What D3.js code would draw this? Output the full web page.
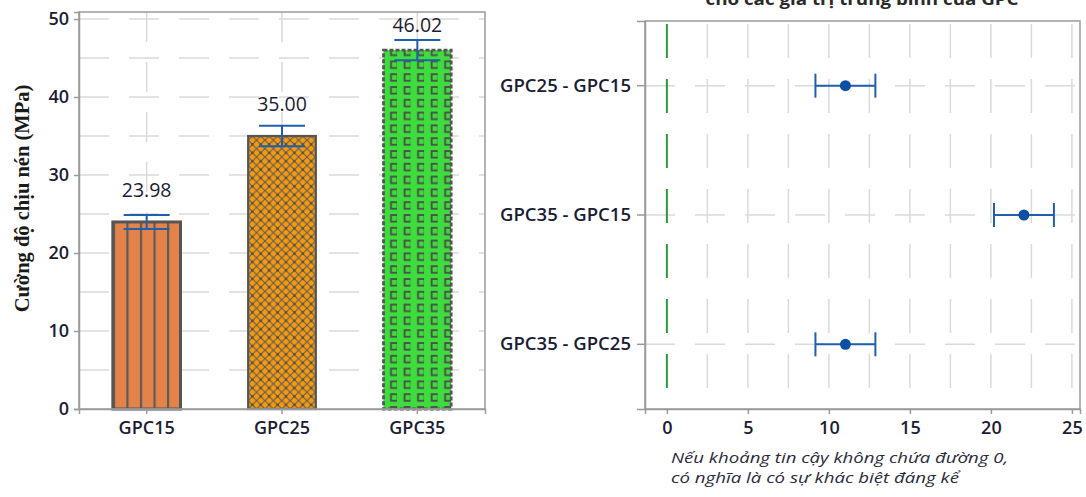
<!DOCTYPE html>
<html>
<head>
<meta charset="utf-8">
<script src="https://cdn.jsdelivr.net/npm/d3@7"></script>
<style>
  html, body { margin: 0; padding: 0; background: #fff; }
  svg { display: block; font-family: "Open Sans", "Noto Sans", sans-serif; }
</style>
</head>
<body>
<svg id="chart" width="1086" height="497"></svg>
<script>
// Compressive strength by mix (left panel)
const barCategories = ["GPC15", "GPC25", "GPC35"];
const barMeans = [23.98, 35.00, 46.02];
const barErrors = [0.9, 1.3, 1.3];
const barLabels = ["23.98", "35.00", "46.02"];
const strengthTicks = [0, 10, 20, 30, 40, 50];
const strengthGrid = [5, 10, 15, 20, 25, 30, 35, 40, 45, 50];

// Tukey pairwise differences with confidence intervals (right panel)
const pairLabels = ["GPC25 - GPC15", "GPC35 - GPC15", "GPC35 - GPC25"];
const pairDiffs = [11.02, 22.04, 11.02];
const pairLower = [9.17, 20.19, 9.17];
const pairUpper = [12.87, 23.89, 12.87];
const diffTicks = [0, 5, 10, 15, 20, 25];
const diffGrid = [2.5, 5, 7.5, 10, 12.5, 15, 17.5, 20, 22.5, 25];

const svg = d3.select("#chart");
const defs = svg.append("defs");
const textColor = "#1c1c34";
const gridColor = "#dadada";
const frameColor = "#9a9a9a";
const ciBlue = "#1f5fae";

// ---------- Left panel ----------
const L = { left: 79, right: 485, top: 12, bottom: 409 };
const x = d3.scaleBand().domain(barCategories).range([L.left, L.right])
  .paddingInner(0.5).paddingOuter(0.25);
const y = d3.scaleLinear().domain([0, 50.9]).range([L.bottom, L.top]);
const bw = x.bandwidth();

const left = svg.append("g");

// grid
left.selectAll(".hg").data(strengthGrid).join("line")
  .attr("x1", L.left).attr("x2", L.right)
  .attr("y1", d => y(d)).attr("y2", d => y(d))
  .attr("stroke", gridColor).attr("stroke-width", 1.5)
  .attr("stroke-dasharray", "30,20");
left.selectAll(".vg").data(barCategories).join("line")
  .attr("x1", d => x(d) + bw / 2).attr("x2", d => x(d) + bw / 2)
  .attr("y1", L.top).attr("y2", L.bottom)
  .attr("stroke", gridColor).attr("stroke-width", 1.5)
  .attr("stroke-dasharray", "30,20");

// fill patterns, one per bar, anchored to each bar's left edge
const x15 = x("GPC15"), x25 = x("GPC25"), x35 = x("GPC35");

const p15 = defs.append("pattern").attr("id", "pat15")
  .attr("patternUnits", "userSpaceOnUse")
  .attr("x", x15).attr("y", 0).attr("width", bw / 5).attr("height", 10);
p15.append("rect").attr("width", bw / 5).attr("height", 10).attr("fill", "#e3834a");
p15.append("rect").attr("x", 0).attr("width", 2.2).attr("height", 10).attr("fill", "#5b5b5b");

const s25 = 8.4;
const p25 = defs.append("pattern").attr("id", "pat25")
  .attr("patternUnits", "userSpaceOnUse")
  .attr("x", x25).attr("y", L.bottom).attr("width", s25).attr("height", s25);
p25.append("rect").attr("width", s25).attr("height", s25).attr("fill", "#f59a0e");
p25.append("path").attr("d", `M0,0L${s25},${s25}M${s25},0L0,${s25}`)
  .attr("stroke", "#5c5c5c").attr("stroke-width", 1.1).attr("fill", "none");
p25.append("rect").attr("x", s25 / 2 - 1.2).attr("y", s25 / 2 - 1.2)
  .attr("width", 2.4).attr("height", 2.4).attr("fill", "#4e4e4e");

const w35 = bw / 5, h35 = 12.8;
const p35 = defs.append("pattern").attr("id", "pat35")
  .attr("patternUnits", "userSpaceOnUse")
  .attr("x", x35).attr("y", L.bottom - 15.8).attr("width", w35).attr("height", h35);
p35.append("rect").attr("width", w35).attr("height", h35).attr("fill", "#3edc3c");
p35.append("rect").attr("x", 7.5).attr("y", 1).attr("width", 6.6).attr("height", 6.6)
  .attr("fill", "none").attr("stroke", "#4c4c4c").attr("stroke-width", 1.8);

const barFill = { GPC15: "url(#pat15)", GPC25: "url(#pat25)", GPC35: "url(#pat35)" };
const barDash = { GPC15: null, GPC25: null, GPC35: "4,2" };
const barStrokeW = { GPC15: 3, GPC25: 2.2, GPC35: 2.8 };

left.selectAll(".bar").data(barCategories).join("rect")
  .attr("x", d => x(d)).attr("width", bw)
  .attr("y", (d, i) => y(barMeans[i]))
  .attr("height", (d, i) => y(0) - y(barMeans[i]))
  .attr("fill", d => barFill[d])
  .attr("stroke", "#555555")
  .attr("stroke-width", d => barStrokeW[d])
  .attr("stroke-dasharray", d => barDash[d]);

// error bars
const capHalf = 23;
const eb = left.selectAll(".eb").data(barCategories).join("g")
  .attr("stroke", ciBlue).attr("stroke-width", 2).attr("fill", "none");
eb.append("line")
  .attr("x1", d => x(d) + bw / 2).attr("x2", d => x(d) + bw / 2)
  .attr("y1", (d, i) => y(barMeans[i] - barErrors[i]))
  .attr("y2", (d, i) => y(barMeans[i] + barErrors[i]));
eb.append("line")
  .attr("x1", d => x(d) + bw / 2 - capHalf).attr("x2", d => x(d) + bw / 2 + capHalf)
  .attr("y1", (d, i) => y(barMeans[i] + barErrors[i]))
  .attr("y2", (d, i) => y(barMeans[i] + barErrors[i]));
eb.append("line")
  .attr("x1", d => x(d) + bw / 2 - capHalf).attr("x2", d => x(d) + bw / 2 + capHalf)
  .attr("y1", (d, i) => y(barMeans[i] - barErrors[i]))
  .attr("y2", (d, i) => y(barMeans[i] - barErrors[i]));

// value labels, kept inside the frame
left.selectAll(".vl").data(barCategories).join("text")
  .attr("x", d => x(d) + bw / 2)
  .attr("y", (d, i) => Math.max(y(barMeans[i]) - 32, L.top + 13))
  .attr("dy", "0.36em")
  .attr("text-anchor", "middle")
  .attr("font-size", 19.5).attr("fill", textColor)
  .text((d, i) => barLabels[i]);

// frame
left.append("rect")
  .attr("x", L.left).attr("y", L.top)
  .attr("width", L.right - L.left).attr("height", L.bottom - L.top)
  .attr("fill", "none").attr("stroke", frameColor).attr("stroke-width", 1.5);

// axes
const yAxisL = left.append("g").attr("transform", `translate(${L.left},0)`)
  .call(d3.axisLeft(y).tickValues(strengthTicks).tickSize(5).tickPadding(5));
const xAxisL = left.append("g").attr("transform", `translate(0,${L.bottom})`)
  .call(d3.axisBottom(x).tickSize(5).tickPadding(7));
[yAxisL, xAxisL].forEach(g => {
  g.select(".domain").attr("stroke", frameColor).attr("stroke-width", 1.5);
  g.selectAll(".tick line").attr("stroke", frameColor).attr("stroke-width", 1.5);
  g.selectAll(".tick text").attr("fill", textColor)
    .attr("font-family", "'Open Sans', sans-serif").attr("font-size", 18)
    .attr("font-weight", 600);
});

// y-axis title
left.append("text")
  .attr("transform", `translate(22,${(L.top + L.bottom) / 2 - 12}) rotate(-90)`)
  .attr("text-anchor", "middle").attr("dy", "0.35em")
  .attr("font-family", "'Liberation Serif', 'Times New Roman', serif")
  .attr("font-weight", "bold").attr("font-size", 20.5).attr("fill", "#1a1a1a")
  .text("Cường độ chịu nén (MPa)");

// ---------- Right panel ----------
const R = { left: 645, right: 1080, top: 21, bottom: 409 };
const xr = d3.scaleLinear().domain([-1.35, 25.5]).range([R.left, R.right]);
const yr = d3.scaleBand().domain(pairLabels).range([R.top, R.bottom]);
const rowMid = d => yr(d) + yr.bandwidth() / 2;

const right = svg.append("g");

right.selectAll(".rvg").data(diffGrid).join("line")
  .attr("x1", d => xr(d)).attr("x2", d => xr(d))
  .attr("y1", R.top + 3).attr("y2", R.bottom)
  .attr("stroke", gridColor).attr("stroke-width", 1.5)
  .attr("stroke-dasharray", "34,21");
right.selectAll(".rhg").data(pairLabels).join("line")
  .attr("x1", R.left).attr("x2", R.right)
  .attr("y1", rowMid).attr("y2", rowMid)
  .attr("stroke", gridColor).attr("stroke-width", 1.5)
  .attr("stroke-dasharray", "30,20");

// zero reference
right.append("line")
  .attr("x1", xr(0)).attr("x2", xr(0))
  .attr("y1", R.top + 3).attr("y2", R.bottom)
  .attr("stroke", "#2a9a3a").attr("stroke-width", 2)
  .attr("stroke-dasharray", "34,21");

// intervals
const ciCap = 12;
const ci = right.selectAll(".ci").data(pairLabels).join("g")
  .attr("stroke", ciBlue).attr("stroke-width", 2).attr("fill", "none");
ci.append("line")
  .attr("x1", (d, i) => xr(pairLower[i])).attr("x2", (d, i) => xr(pairUpper[i]))
  .attr("y1", rowMid).attr("y2", rowMid);
ci.append("line")
  .attr("x1", (d, i) => xr(pairLower[i])).attr("x2", (d, i) => xr(pairLower[i]))
  .attr("y1", d => rowMid(d) - ciCap).attr("y2", d => rowMid(d) + ciCap);
ci.append("line")
  .attr("x1", (d, i) => xr(pairUpper[i])).attr("x2", (d, i) => xr(pairUpper[i]))
  .attr("y1", d => rowMid(d) - ciCap).attr("y2", d => rowMid(d) + ciCap);
right.selectAll(".pt").data(pairLabels).join("circle")
  .attr("cx", (d, i) => xr(pairDiffs[i])).attr("cy", rowMid)
  .attr("r", 5.5).attr("fill", "#0a4fa3");

right.append("rect")
  .attr("x", R.left).attr("y", R.top)
  .attr("width", R.right - R.left).attr("height", R.bottom - R.top)
  .attr("fill", "none").attr("stroke", frameColor).attr("stroke-width", 1.5);

const yAxisR = right.append("g").attr("transform", `translate(${R.left},0)`)
  .call(d3.axisLeft(yr).tickSize(8).tickPadding(6));
const xAxisR = right.append("g").attr("transform", `translate(0,${R.bottom})`)
  .call(d3.axisBottom(xr).tickValues(diffTicks).tickSize(5).tickPadding(7));
[yAxisR, xAxisR].forEach(g => {
  g.select(".domain").attr("stroke", frameColor).attr("stroke-width", 1.5);
  g.selectAll(".tick line").attr("stroke", frameColor).attr("stroke-width", 1.5);
  g.selectAll(".tick text").attr("fill", textColor)
    .attr("font-family", "'Open Sans', sans-serif").attr("font-size", 18)
    .attr("font-weight", 600);
});
yAxisR.selectAll(".tick text").attr("font-size", 18.5);

// title (second line of the heading)
right.append("text")
  .attr("x", 862).attr("y", 5)
  .attr("text-anchor", "middle")
  .attr("font-weight", "bold").attr("font-size", 16).attr("fill", "#2a2a2a")
  .attr("textLength", 313).attr("lengthAdjust", "spacingAndGlyphs")
  .text("cho các giá trị trung bình của GPC");

// footnote, two separate lines
const noteLines = ["Nếu khoảng tin cậy không chứa đường 0,", "có nghĩa là có sự khác biệt đáng kể"];
const noteLengths = [337, 288];
right.selectAll(".note").data(noteLines).join("text")
  .attr("x", 671).attr("y", (d, i) => 463 + i * 20)
  .attr("font-style", "italic").attr("font-size", 14.5).attr("fill", "#2b2b3b")
  .attr("textLength", (d, i) => noteLengths[i]).attr("lengthAdjust", "spacingAndGlyphs")
  .text(d => d);
</script>
</body>
</html>
